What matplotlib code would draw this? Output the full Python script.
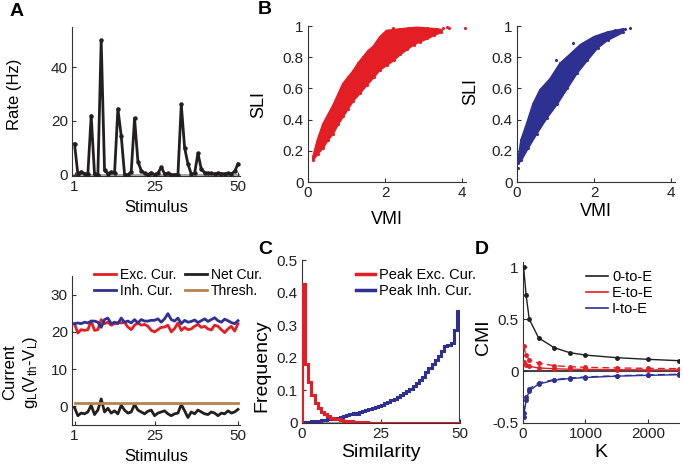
import matplotlib
matplotlib.use("Agg")
import matplotlib.pyplot as plt
import numpy as np

plt.rcParams['font.family'] = ['Liberation Sans', 'DejaVu Sans']
plt.rcParams['mathtext.fontset'] = 'custom'
plt.rcParams['mathtext.rm'] = 'Liberation Sans'
plt.rcParams['mathtext.it'] = 'Liberation Sans'

# ---------------- data ----------------
stimulus = list(range(1, 51))
rate_hz = [11.5, 0.3, 1.0, 0.4, 0.2, 22.0, 0.2, 0.0, 50.0, 1.6,
           0.4, 1.0, 0.5, 24.5, 14.5, 0.0, 0.0, 1.0, 21.0, 4.9,
           1.5, 0.5, 0.0, 0.7, 0.0, 0.5, 2.8, 0.3, 0.5, 0.0,
           0.0, 0.0, 26.2, 10.0, 4.0, 0.2, 0.5, 8.0, 2.0, 0.8,
           0.5, 0.5, 0.3, 0.6, 0.4, 0.3, 0.5, 0.3, 1.2, 4.0]

exc_cur = [22.2, 19.7, 20.6, 20.4, 20.6, 22.9, 20.4, 20.6, 23.3, 22.2,
           22.6, 21.8, 22.2, 22.5, 22.4, 22.6, 21.3, 20.6, 21.8, 22.4,
           21.8, 22.0, 21.5, 20.4, 20.0, 20.6, 21.2, 21.3, 21.8, 20.0,
           20.9, 22.4, 20.4, 21.2, 20.6, 20.8, 21.5, 22.0, 21.2, 21.5,
           20.8, 20.5, 21.8, 21.5, 20.6, 19.8, 20.8, 21.5, 20.2, 22.2]
inh_cur = [22.2, 22.4, 22.2, 22.6, 22.4, 22.9, 22.9, 22.6, 21.2, 23.3,
           23.7, 22.2, 22.6, 22.2, 23.7, 22.6, 22.9, 22.4, 23.3, 22.4,
           23.3, 22.9, 22.9, 23.1, 23.1, 23.5, 22.6, 23.5, 24.9, 23.3,
           22.9, 23.7, 22.2, 23.1, 22.6, 22.8, 23.2, 22.5, 23.0, 23.5,
           22.8, 23.3, 23.8, 23.0, 22.6, 23.4, 23.0, 22.5, 22.2, 23.0]
net_cur = [-0.3, -2.5, -1.8, -2.0, -1.5, 0.3, -2.2, -1.0, 2.0, -1.5,
           -0.5, -1.8, -1.2, -2.0, 0.3, -1.0, -1.8, -1.5, 0.5, -1.0,
           -1.5, -2.0, -1.3, -1.0, -2.5, -1.8, -1.5, -1.2, -2.0, -2.5,
           -2.0, -1.8, 0.5, -1.2, -3.0, -1.5, -2.0, -1.0, -1.5, -2.0,
           -2.2, -1.5, -1.8, -2.5, -1.8, -2.0, -1.2, -1.8, -1.5, -0.8]
thresh = [1.0] * 50

# B: envelopes of the point clouds
exc_vmi_upper = [0.13, 0.25, 0.39, 0.52, 0.65, 0.78, 0.91, 1.04, 1.17, 1.30, 1.43, 1.56, 1.70, 1.87, 2.04, 2.22, 2.39, 2.60, 2.83, 3.10, 3.35, 3.45]
exc_sli_upper = [0.16, 0.27, 0.37, 0.43, 0.49, 0.56, 0.63, 0.67, 0.71, 0.76, 0.80, 0.84, 0.87, 0.93, 0.97, 0.975, 0.98, 0.985, 0.99, 0.985, 0.98, 0.975]
exc_vmi_lower = [0.13, 0.25, 0.39, 0.52, 0.65, 0.78, 0.91, 1.04, 1.17, 1.35, 1.52, 1.70, 1.87, 2.05, 2.22, 2.40, 2.57, 2.74, 2.91, 3.10, 3.26, 3.45]
exc_sli_lower = [0.14, 0.18, 0.22, 0.27, 0.31, 0.37, 0.42, 0.47, 0.52, 0.57, 0.62, 0.67, 0.72, 0.75, 0.78, 0.82, 0.85, 0.88, 0.90, 0.92, 0.94, 0.96]
exc_out_vmi = [3.5, 3.6, 3.65, 4.08, 3.3, 2.2]
exc_out_sli = [0.99, 0.995, 0.99, 0.99, 0.97, 0.985]

inh_vmi_upper = [0.03, 0.11, 0.25, 0.42, 0.60, 0.86, 1.12, 1.39, 1.65, 2.00, 2.35, 2.75]
inh_sli_upper = [0.14, 0.27, 0.37, 0.50, 0.59, 0.66, 0.76, 0.82, 0.88, 0.93, 0.96, 0.98]
inh_vmi_lower = [0.03, 0.11, 0.29, 0.51, 0.77, 1.04, 1.30, 1.56, 1.82, 2.09, 2.35, 2.75]
inh_sli_lower = [0.12, 0.14, 0.22, 0.31, 0.41, 0.50, 0.60, 0.70, 0.78, 0.86, 0.91, 0.96]
inh_out_vmi = [0.03, 2.92, 2.8, 1.46, 1.0, 2.55]
inh_out_sli = [0.09, 0.985, 0.98, 0.89, 0.78, 0.975]

# C: histograms (bin edges 0..50)
sim_edges = list(range(0, 51))
freq_exc = [0.425, 0.18, 0.125, 0.085, 0.06, 0.045, 0.035, 0.027, 0.02, 0.016,
            0.013, 0.011, 0.009, 0.007, 0.006, 0.005, 0.004, 0.0035, 0.003, 0.0025,
            0.002, 0.0015, 0.001, 0.001, 0.0008, 0.0006, 0.0005, 0.0004, 0.0003, 0.0003,
            0.0002, 0.0002, 0.0001, 0.0001, 0.0001, 0.0, 0.0, 0.0, 0.0, 0.0,
            0.0, 0.0, 0.0, 0.0, 0.0, 0.0, 0.0, 0.0, 0.0, 0.0]
freq_inh = [0.002, 0.003, 0.004, 0.005, 0.006, 0.007, 0.008, 0.010, 0.011, 0.012,
            0.014, 0.016, 0.018, 0.021, 0.024, 0.027, 0.030, 0.029, 0.034, 0.037,
            0.040, 0.043, 0.046, 0.050, 0.053, 0.056, 0.060, 0.065, 0.070, 0.075,
            0.080, 0.086, 0.092, 0.098, 0.105, 0.113, 0.122, 0.132, 0.142, 0.155,
            0.170, 0.180, 0.192, 0.205, 0.220, 0.235, 0.240, 0.245, 0.285, 0.345]

# D: CMI vs K
K = [10, 50, 100, 250, 500, 750, 1000, 1500, 2000, 2500]
cmi_0E = [1.0, 0.73, 0.5, 0.32, 0.225, 0.177, 0.154, 0.129, 0.113, 0.1]
cmi_EE_dash = [0.24, 0.15, 0.11, 0.075, 0.052, 0.042, 0.036, 0.03, 0.026, 0.023]
cmi_EE_solid = [0.09, 0.06, 0.045, 0.03, 0.022, 0.018, 0.016, 0.013, 0.011, 0.01]
cmi_IE_dash = [-0.40, -0.25, -0.17, -0.115, -0.082, -0.067, -0.057, -0.045, -0.037, -0.031]
cmi_IE_solid = [-0.44, -0.28, -0.19, -0.125, -0.088, -0.072, -0.062, -0.049, -0.041, -0.035]

RED = '#e31e24'
BLUE = '#2e3192'
BLACK = '#231f20'
BROWN = '#b8824e'
GRAY = '#9a9a9a'

W, H = 683, 468
fig = plt.figure(figsize=(W / 100, H / 100), dpi=100)


def ax_px(l, t, r, b):
    return fig.add_axes([l / W, 1 - b / H, (r - l) / W, (b - t) / H])


def style(ax, fs=11):
    for s in ['top', 'right']:
        ax.spines[s].set_visible(False)
    for s in ['left', 'bottom']:
        ax.spines[s].set_color('#333333')
        ax.spines[s].set_linewidth(0.8)
    ax.tick_params(direction='in', length=3, width=0.8, labelsize=fs,
                   colors='#333333', labelcolor='#222222', pad=3)


# ---- A top ----
ax1 = ax_px(72, 27, 240, 176)
ax1.axhline(0, color=GRAY, lw=1.2, xmin=0.01, zorder=1)
ax1.plot(stimulus, rate_hz, color=BLACK, lw=2, marker='o', ms=2.2, zorder=3)
ax1.set_xlim(0.25, 50.6)
ax1.set_ylim(-0.5, 55)
ax1.set_xticks([1, 25, 50])
ax1.set_yticks([0, 20, 40])
style(ax1)
ax1.set_xlabel('Stimulus', fontsize=12, labelpad=4)
ax1.set_ylabel('Rate (Hz)', fontsize=12)
ax1.yaxis.set_label_coords(-0.30, 0.55)

# ---- A bottom ----
ax2 = ax_px(72, 276, 240, 425)
h_exc, = ax2.plot(stimulus, exc_cur, color=RED, lw=2)
h_inh, = ax2.plot(stimulus, inh_cur, color=BLUE, lw=2)
h_net, = ax2.plot(stimulus, net_cur, color=BLACK, lw=2)
h_thr, = ax2.plot(stimulus, thresh, color=BROWN, lw=2)
ax2.set_xlim(0.25, 50.6)
ax2.set_ylim(-5, 35)
ax2.set_xticks([1, 25, 50])
ax2.set_yticks([0, 10, 20, 30])
style(ax2)
ax2.set_xlabel('Stimulus', fontsize=12, labelpad=4)
fig.text(10 / W, 1 - 372 / H, 'Current', rotation=90, fontsize=12,
         ha='center', va='center')
fig.text(31 / W, 1 - 372 / H, r'g$_\mathregular{L}$(V$_\mathregular{th}$-V$_\mathregular{L}$)',
         rotation=90, fontsize=12, ha='center', va='center')
leg = ax2.legend([h_exc, h_inh, h_net, h_thr],
                 ['Exc. Cur.', 'Inh. Cur.', 'Net Cur.', 'Thresh.'],
                 ncol=2, frameon=False, fontsize=10, handlelength=1.6,
                 handletextpad=0.3, columnspacing=0.6, labelspacing=0.2,
                 loc='upper left', bbox_to_anchor=(88 / W, 1 - 262 / H),
                 bbox_transform=fig.transFigure, borderaxespad=0)

# ---- B red ----
ax3 = ax_px(308, 26, 466, 182)
xs = exc_vmi_upper + exc_vmi_lower[::-1]
ys = exc_sli_upper + exc_sli_lower[::-1]
ax3.fill(xs, ys, color=RED, lw=1.5, edgecolor=RED, zorder=2)
ax3.scatter(exc_vmi_upper + exc_vmi_lower + exc_out_vmi,
            exc_sli_upper + exc_sli_lower + exc_out_sli, s=5, color=RED,
            lw=0, zorder=3)
ax3.set_xlim(0, 4.1)
ax3.set_ylim(0, 1)
ax3.set_xticks([0, 2, 4])
ax3.set_yticks([0, 0.2, 0.4, 0.6, 0.8, 1])
ax3.set_yticklabels(['0', '0.2', '0.4', '0.6', '0.8', '1'])
style(ax3)
ax3.set_xlabel('VMI', fontsize=13, labelpad=8)
ax3.set_ylabel('SLI', fontsize=13)
ax3.yaxis.set_label_coords(-0.26, 0.5)

# ---- B blue ----
ax4 = ax_px(517, 26, 675, 182)
xs = inh_vmi_upper + inh_vmi_lower[::-1]
ys = inh_sli_upper + inh_sli_lower[::-1]
ax4.fill(xs, ys, color=BLUE, lw=1.5, edgecolor=BLUE, zorder=2)
ax4.scatter(inh_vmi_upper + inh_vmi_lower + inh_out_vmi,
            inh_sli_upper + inh_sli_lower + inh_out_sli, s=5, color=BLUE,
            lw=0, zorder=3)
ax4.set_xlim(0, 4.1)
ax4.set_ylim(0, 1)
ax4.set_xticks([0, 2, 4])
ax4.set_yticks([0, 0.2, 0.4, 0.6, 0.8, 1])
ax4.set_yticklabels(['0', '0.2', '0.4', '0.6', '0.8', '1'])
style(ax4)
ax4.set_xlabel('VMI', fontsize=13, labelpad=2)
ax4.set_ylabel('SLI', fontsize=13)
ax4.yaxis.set_label_coords(-0.24, 0.58)

# ---- C ----
ax5 = ax_px(302, 260, 460, 423)
ax5.plot([0, 50], [0, 0], color=GRAY, lw=1.5, zorder=1)
ax5.stairs(freq_exc, sim_edges, color=RED, lw=2.2, baseline=0, fill=False,
           label='Peak Exc. Cur.', zorder=3)
ax5.stairs(freq_inh, sim_edges, color=BLUE, lw=2.2, baseline=0, fill=False,
           label='Peak Inh. Cur.', zorder=2)
ax5.set_xlim(0, 50)
ax5.set_ylim(0, 0.5)
ax5.set_xticks([0, 25, 50])
ax5.set_yticks([0, 0.1, 0.2, 0.3, 0.4, 0.5])
ax5.set_yticklabels(['0', '0.1', '0.2', '0.3', '0.4', '0.5'])
style(ax5)
ax5.set_xlabel('Similarity', fontsize=14, labelpad=2)
ax5.set_ylabel('Frequency', fontsize=14)
ax5.yaxis.set_label_coords(-0.20, 0.35)
from matplotlib.lines import Line2D
ax5.legend([Line2D([], [], color=RED, lw=2.5), Line2D([], [], color=BLUE, lw=2.5)],
           ['Peak Exc. Cur.', 'Peak Inh. Cur.'], frameon=False, fontsize=10.5,
           handlelength=1.3, handletextpad=0.3, labelspacing=0.15,
           loc='upper left', bbox_to_anchor=(350 / W, 1 - 262 / H),
           bbox_transform=fig.transFigure, borderaxespad=0)

# ---- D ----
ax6 = ax_px(523, 262, 679, 423)
ax6.axhline(0, color='#444444', lw=1.5, zorder=1)
ax6.plot(K, cmi_0E, color=BLACK, lw=1, zorder=3)
ax6.plot(K, cmi_0E, color=BLACK, lw=0, marker='o', ms=2.5, zorder=4)
ax6.plot(K, cmi_EE_solid, color=RED, lw=1, marker='o', ms=2.5, zorder=3)
ax6.plot(K, cmi_EE_dash, color=RED, lw=1, ls=(0, (5, 3)), marker='o', ms=2.5, zorder=3)
ax6.plot(K, cmi_IE_solid, color=BLUE, lw=1, marker='o', ms=2.5, zorder=3)
ax6.plot(K, cmi_IE_dash, color=BLUE, lw=1, ls=(0, (5, 3)), marker='o', ms=2.5, zorder=3)
ax6.set_xlim(0, 2500)
ax6.set_ylim(-0.5, 1.05)
ax6.set_xticks([0, 1000, 2000])
ax6.set_yticks([-0.5, 0, 0.5, 1])
ax6.set_yticklabels(['-0.5', '0', '0.5', '1'])
style(ax6)
ax6.set_xlabel('K', fontsize=14, labelpad=2)
ax6.set_ylabel('CMI', fontsize=14)
ax6.yaxis.set_label_coords(-0.20, 0.53)
ax6.legend([Line2D([], [], color=BLACK, lw=1.2), Line2D([], [], color=RED, lw=1.2),
            Line2D([], [], color=BLUE, lw=1.2)],
           ['0-to-E', 'E-to-E', 'I-to-E'], frameon=False, fontsize=10.5,
           handlelength=1.5, handletextpad=0.3, labelspacing=0.15,
           loc='upper left', bbox_to_anchor=(580 / W, 1 - 264 / H),
           bbox_transform=fig.transFigure, borderaxespad=0)

# panel letters
for lab, x, y in [('A', 17, 12), ('B', 265, 10), ('C', 265, 250), ('D', 482, 250)]:
    fig.text(x / W, 1 - y / H, lab, fontsize=14, fontweight='bold',
             ha='center', va='center')

fig.savefig('out.png', dpi=100)
